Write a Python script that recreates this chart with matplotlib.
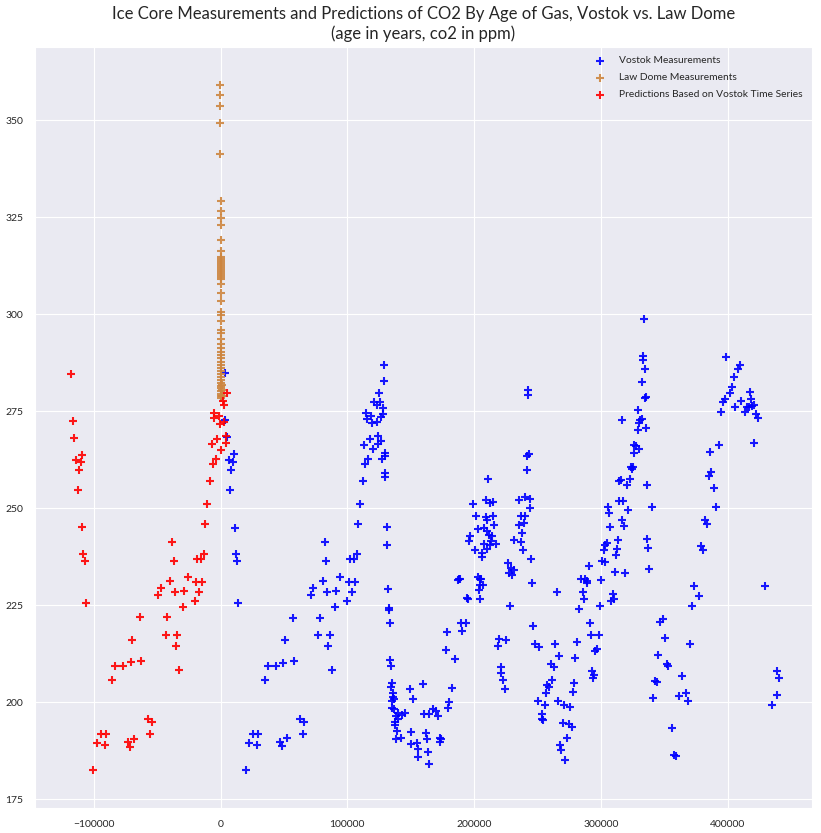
import matplotlib
matplotlib.use("Agg")
import matplotlib.pyplot as plt
import seaborn as sns

# ---------------- data (age in years, co2 in ppm) ----------------
vostok_age = [
    3200, 3800, 4900, 6700, 7700, 8500, 10100, 10900, 11700, 12000, 13200, 14000,
    20300, 22700, 25600, 29800, 29000, 35300, 37700, 44000, 47200, 48700, 49500,
    51100, 52700, 57400, 58200, 62900, 66100, 65300, 71600, 73200, 77100, 78700,
    80800, 82600, 83400, 84200, 85000, 86600, 88200, 90500, 91300, 94500, 100000,
    101100, 102400, 105000, 103900, 106100, 107900, 108700, 110200, 112600, 113400,
    114000, 115000, 115800, 116600, 118100, 118400, 119500, 120500, 121300, 123200,
    123400, 124400, 124400, 125200, 126000, 126600, 126600, 127400, 128100, 128400,
    129200, 129200, 130000, 130000, 130000, 130000, 131500, 131500, 132300, 132900,
    132900, 133700, 133700, 134500, 135200, 134500, 136300, 136000, 136800, 135200,
    135200, 136600, 138400, 140200, 142900, 145700, 139700, 137600, 137600, 139200,
    138200, 142300, 149400, 150200, 150000, 152000, 155200, 156000, 155700, 159500,
    160500, 162100, 163100, 163900, 164300, 164400, 167600, 169900, 171500, 173100,
    173500, 174100, 179600, 180400, 182800, 178100, 178900, 185200, 187500, 188300,
    188900, 189900, 190700, 193600, 194200, 195400, 196200, 196800, 199400, 200900,
    201500, 202800, 203300, 204100, 204600, 204600, 204900, 205400, 206200, 206500,
    207200, 207800, 208000, 209400, 209400, 209900, 209900, 210400, 211200, 211700,
    212500, 213100, 212500, 214300, 214700, 215100, 215700, 217000, 219100, 219600,
    221000, 221400, 223000, 224600, 225100, 227000, 227700, 228300, 229100, 230100,
    231200, 231700, 235200, 235600, 236700, 237200, 238000, 238800, 239300, 240100,
    240400, 241700, 243300, 241900, 242700, 242700, 244100, 244300, 245100, 245900,
    246200, 248200, 250600, 251400, 253300, 253800, 254100, 256100, 256900, 257700,
    259300, 260400, 261700, 263000, 264000, 265600, 266400, 267200, 268000, 268800,
    269900, 270900, 271900, 273500, 274600, 275900, 277400, 278200, 278800, 279800,
    281400, 282900, 284500, 285900, 286900, 287500, 289000, 289300, 290800, 291600,
    292400, 293200, 293700, 294800, 295300, 297100, 298700, 299500, 300100, 300600,
    302400, 303300, 303600, 304800, 305800, 306600, 307100, 307700, 309700, 310500,
    311100, 311900, 312900, 313500, 314100, 314300, 316600, 316200, 316700, 317500,
    318300, 319100, 320800, 321600, 323200, 323700, 324300, 325500, 326100, 326300,
    327900, 329000, 329500, 329800, 330300, 331100, 332400, 332600, 333400, 333400,
    334200, 334500, 335300, 335000, 335800, 336600, 336600, 337400, 338200, 340500,
    341100, 342600, 344200, 345200, 346800, 349200, 350800, 352300, 353100, 356300,
    357600, 359200, 361600, 364200, 367300, 368900, 370200, 372100, 373600, 377600,
    379200, 380700, 382300, 383900, 385500, 386300, 387000, 389400, 391000, 393300,
    394900, 396500, 398100, 398900, 402000, 403600, 405200, 406000, 408300, 409900,
    410700, 413900, 415200, 416800, 417800, 418300, 419100, 420500, 421000, 422500,
    424100, 429600, 435100, 439100, 439100, 440700,
]
vostok_co2 = [
    284.8, 272.7, 268.3, 262.4, 254.6, 259.8, 261.8, 263.9, 245.0, 238.3, 236.3, 225.5,
    182.4, 189.4, 191.9, 191.9, 188.9, 205.6, 209.2, 209.2, 189.6, 188.6, 210.2,
    215.9, 190.7, 221.8, 210.6, 195.6, 195.0, 191.7, 227.5, 229.3, 217.2, 221.8,
    231.1, 241.2, 236.5, 228.3, 214.4, 217.2, 208.2, 224.4, 228.6, 232.2, 226.0,
    230.9, 237.0, 237.0, 228.3, 230.9, 238.3, 245.8, 251.2, 257.0, 266.4,
    261.5, 274.6, 273.1, 262.6, 267.8, 273.7, 272.0, 265.2, 277.5, 272.2,
    276.5, 268.7, 266.5, 279.8, 277.3, 273.6, 267.3, 262.6, 274.3, 275.7,
    287.0, 282.7, 264.3, 263.4, 259.1, 258.1, 245.1, 240.4, 229.1, 224.2,
    223.7, 220.5, 210.8, 209.2, 204.9, 203.8, 202.4, 201.4, 200.9, 200.2,
    198.5, 198.1, 196.4, 197.1, 196.6, 197.1, 195.6, 194.8, 194.0, 192.6,
    190.5, 190.7, 203.4, 192.2, 189.2, 200.8, 189.4, 187.9, 185.8, 204.6,
    196.9, 192.0, 190.5, 187.1, 184.0, 196.9, 198.1, 197.8, 196.4, 190.7,
    189.6, 190.5, 198.5, 200.0, 203.6, 213.4, 218.0, 211.0, 231.4, 231.8,
    231.7, 220.5, 218.3, 220.3, 226.8, 226.5, 241.5, 242.9, 251.0, 239.2,
    247.9, 244.6, 232.3, 228.9, 231.8, 230.2, 226.5, 231.8, 238.5, 237.4,
    230.2, 240.8, 244.8, 252.1, 247.6, 246.9, 244.2, 239.6, 257.5, 243.2,
    251.4, 241.6, 240.6, 242.8, 247.9, 251.7, 245.6, 240.7, 214.4, 216.2,
    207.4, 209.0, 205.8, 203.5, 215.9, 235.9, 233.4, 224.7, 234.5, 232.9,
    234.0, 241.7, 245.6, 252.2, 247.9, 241.4, 243.5, 239.1, 246.2, 252.8,
    247.9, 263.4, 263.9, 259.8, 280.4, 279.1, 252.4, 250.0, 236.9, 230.6,
    219.5, 215.1, 200.4, 214.1, 195.7, 196.9, 195.4, 199.2, 202.3, 204.4,
    204.0, 209.7, 205.8, 209.1, 214.9, 228.3, 200.2, 211.8, 188.9, 187.6,
    194.5, 199.2, 185.0, 190.7, 194.3, 198.7, 193.5, 202.5, 204.8, 211.3,
    215.4, 223.9, 231.8, 228.3, 226.5, 231.8, 231.1, 230.6, 235.0, 220.5,
    217.2, 208.1, 206.1, 207.0, 213.2, 213.6, 217.2, 224.7, 231.6, 236.3,
    239.2, 236.0, 240.4, 240.9, 250.4, 248.7, 245.1, 226.0, 228.0, 226.6,
    233.6, 237.9, 239.4, 241.9, 251.8, 257.0, 272.7, 257.2, 246.9, 251.8,
    245.3, 233.4, 255.9, 249.5, 257.5, 260.7, 260.1, 260.5, 264.1, 266.2,
    266.0, 270.1, 275.3, 272.0, 265.3, 272.7, 273.1, 282.5, 289.2, 288.1,
    298.7, 278.5, 278.7, 285.8, 270.6, 256.0, 242.0, 239.7, 234.3, 250.3,
    201.0, 205.4, 205.1, 212.1, 220.6, 221.4, 216.5, 209.8, 209.4, 193.3,
    186.4, 186.0, 201.5, 206.7, 202.3, 200.2, 214.9, 224.7, 229.9, 227.3,
    240.2, 239.2, 246.9, 245.9, 258.2, 264.6, 259.3, 255.3, 250.2, 266.4,
    274.7, 277.3, 278.1, 288.9, 279.6, 281.2, 283.7, 276.2, 285.8, 287.0,
    277.7, 274.7, 276.0, 276.2, 279.9, 278.2, 276.4, 276.7, 266.7, 274.2,
    273.2, 230.0, 199.2, 207.9, 201.8, 206.2,
]

lawdome_age = [
    -28, -25, -20, -15, -5, 5, 8, 11, 14, 18, 22,
    25, 28, 31, 34, 37, 40, 43, 46, 49, 52, 55, 58,
    65, 70, 75, 80, 82, 85, 90, 92, 95, 100, 105, 110, 115, 120,
    130, 140, 150, 170, 190, 220, 260, 300, 350, 400, 450, 500, 600, 700, 800, 900, 1000,
]
lawdome_co2 = [
    359.2, 356.6, 353.6, 349.4, 341.2, 329.2, 326.5, 324.9, 322.9, 319.1, 316.3,
    314.8, 314.3, 313.8, 313.2, 312.7, 312.2, 311.7, 311.2, 310.7, 310.2, 309.7, 309.2,
    307.7, 305.6, 303.5, 300.6, 299.7, 298.3, 295.9, 295.1, 293.7, 292.3, 291.2, 290.3, 289.5, 288.6,
    287.7, 286.9, 286.1, 285.3, 284.5, 283.7, 283.0, 282.3, 281.6, 280.9, 280.2, 279.5, 278.8, 278.4, 279.0, 280.5, 281.8,
]

pred_age = [
    -117700, -116100, -115900, -114000, -112100, -111300, -109800, -109000, -109000,
    -108200, -106600, -106000, -100300, -97200, -94200, -90800, -90300, -85300,
    -83000, -76700, -72700, -71100, -70300, -69600, -68000, -63200, -62500, -56900,
    -53800, -55400, -49100, -46700, -42700, -42000, -39600, -38000, -36400, -35600,
    -34900, -34100, -32500, -29300, -28500, -25400, -19900, -19300, -18300, -16700,
    -15600, -14400, -12800, -12000, -10400, -8000, -6500, -5700, -5500, -4900,
    -3300, -2500, -1400, -200, 600, 1700, 2500, 3000, 4300, 4600, 5400,
]
pred_co2 = [
    284.7, 272.6, 268.2, 262.4, 254.6, 259.8, 261.9, 263.8, 245.1,
    238.3, 236.3, 225.5, 182.4, 189.4, 191.9, 188.9, 191.9, 205.7,
    209.2, 209.2, 189.6, 188.5, 210.3, 215.9, 190.6, 221.9, 210.6, 195.7,
    195.0, 191.7, 227.6, 229.5, 217.3, 221.9, 231.2, 241.2, 236.5, 228.3,
    214.4, 217.3, 208.2, 224.4, 228.6, 232.2, 226.0, 231.0, 237.0, 228.3,
    237.0, 231.0, 238.3, 245.8, 251.2, 257.0, 266.5, 261.5, 274.6, 273.3,
    262.6, 267.8, 273.8, 271.8, 265.1, 277.6, 272.2, 276.7, 268.7, 266.7, 279.8,
]

series_labels = ["Vostok Measurements", "Law Dome Measurements",
                 "Predictions Based on Vostok Time Series"]
title_text = ("Ice Core Measurements and Predictions of CO2 By Age of Gas, "
              "Vostok vs. Law Dome\n(age in years, co2 in ppm)")

# ---------------- plot ----------------
sns.set_style("darkgrid")
plt.rcParams["font.family"] = ["Lato", "DejaVu Sans"]

fig = plt.figure(figsize=(8.21, 8.33), dpi=100)
ax = fig.add_axes([35 / 821, 25 / 833, 777 / 821, 761 / 833])

kw = dict(marker="+", s=32, linewidths=1.5)
ax.scatter(vostok_age, vostok_co2, color="#0000ff", alpha=0.9, label=series_labels[0], **kw)
ax.scatter(lawdome_age, lawdome_co2, color="#cd853f", alpha=0.9, label=series_labels[1], **kw)
ax.scatter(pred_age, pred_co2, color="#ff0000", alpha=0.9, label=series_labels[2], **kw)

ax.set_xlim(-146300, 466500)
ax.set_ylim(172.7, 368.9)
ax.set_xticks([-100000, 0, 100000, 200000, 300000, 400000])
ax.set_yticks([175, 200, 225, 250, 275, 300, 325, 350])
ax.tick_params(labelsize=7.5, colors="#262626", pad=5)

ax.set_title(title_text, fontsize=12, color="#262626", pad=6)
leg = ax.legend(loc="upper right", frameon=False, fontsize=7.4, scatterpoints=1,
                handletextpad=0.9, labelspacing=0.75, borderaxespad=0.5)

fig.savefig("out.png", dpi=100)
